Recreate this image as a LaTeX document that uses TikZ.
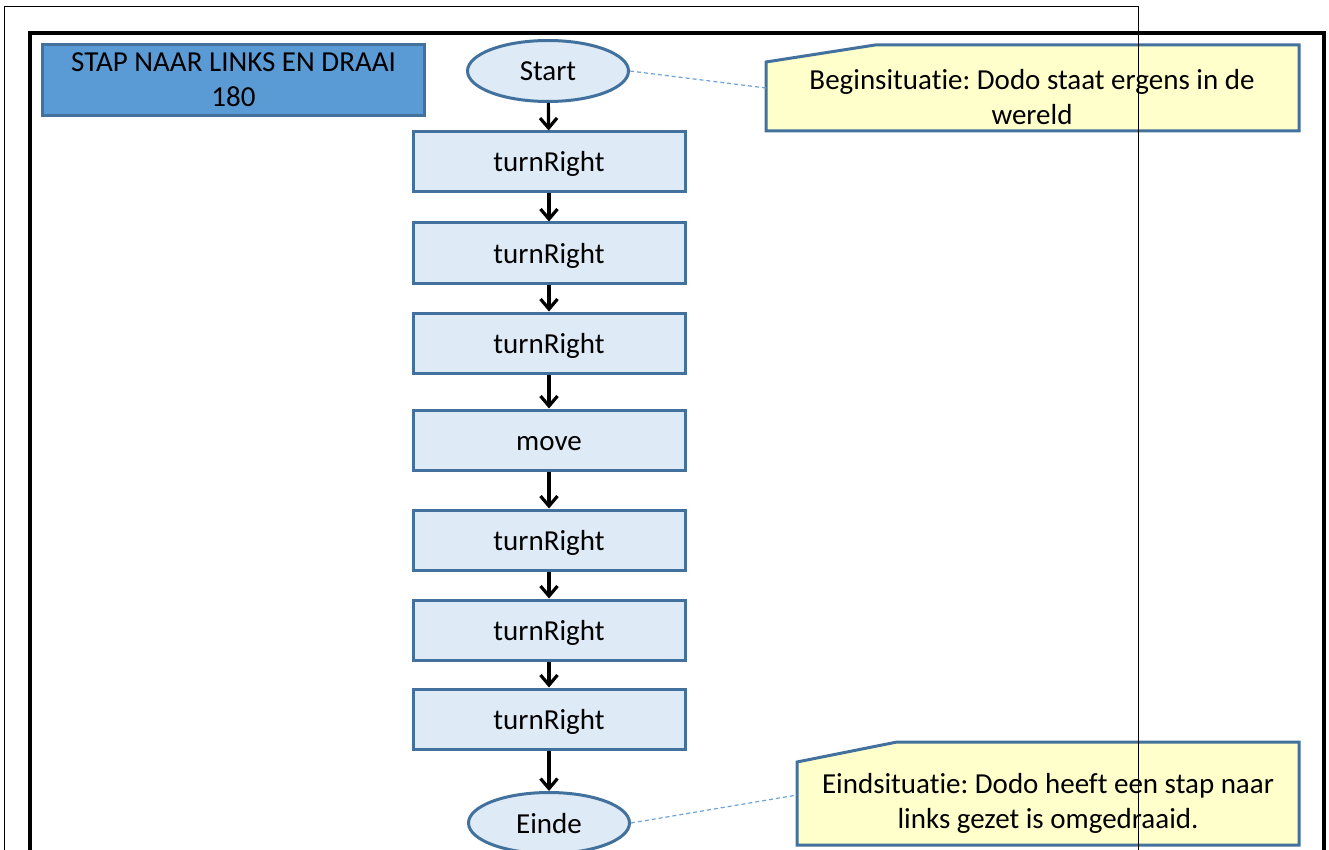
\documentclass[tikz,border=0pt]{standalone}
\usepackage{fontspec}
\setmainfont{Carlito}[Ligatures={NoCommon}]
\frenchspacing
\usetikzlibrary{arrows.meta,shapes.geometric}
\definecolor{bord}{HTML}{41719C}
\definecolor{titlefill}{HTML}{5B9BD5}
\definecolor{procfill}{HTML}{DEEBF7}
\definecolor{notefill}{HTML}{FFFFCC}
\definecolor{dashc}{HTML}{6FA3D8}
\begin{document}
\begin{tikzpicture}[x=1pt,y=-1pt,
  font=\fontsize{29}{35}\selectfont,
  proc/.style={draw=bord,fill=procfill,line width=3pt,minimum width=272pt,minimum height=60pt,inner sep=0pt,text depth=0pt,text height=20pt},
  term/.style={ellipse,draw=bord,fill=procfill,line width=3pt,minimum width=161pt,minimum height=61pt,inner sep=0pt,text depth=0pt,text height=20pt},
  flow/.style={-{Straight Barb[length=10pt,width=17pt]},line width=3.2pt,black},
  note/.style={draw=bord,fill=notefill,line width=3pt,line join=miter},
  notelink/.style={dashc,line width=1.2pt,dash pattern=on 4pt off 3pt}]
\useasboundingbox (0,0) rectangle (1329,850);
% thick frame
\draw[line width=3.5pt] (30,850) -- (30,33) -- (1324,33) -- (1324,850);
% title
\node[draw=bord,fill=titlefill,line width=2.5pt,minimum width=382pt,minimum height=71pt,align=center,inner sep=0pt] (title) at (233.5,80) {STAP NAAR LINKS EN DRAAI\\180};
% flow
\node[term] (start) at (548,71) {Start};
\node[proc] (r1) at (549,162) {turnRight};
\node[proc] (r2) at (549,253) {turnRight};
\node[proc] (r3) at (549,343) {turnRight};
\node[proc] (mv) at (549,440) {move};
\node[proc] (r4) at (549,540) {turnRight};
\node[proc] (r5) at (549,630) {turnRight};
\node[proc] (r6) at (549,719) {turnRight};
\node[term] (einde) at (549,823) {Einde};
\draw[flow] (start) -- (r1);
\draw[flow] (r1) -- (r2);
\draw[flow] (r2) -- (r3);
\draw[flow] (r3) -- (mv);
\draw[flow] (mv) -- (r4);
\draw[flow] (r4) -- (r5);
\draw[flow] (r5) -- (r6);
\draw[flow] (r6) -- (einde);
% callout 1
\draw[note] (766,131) -- (766,62) -- (875,45) -- (1299,45) -- (1299,131) -- cycle;
\node[align=center,inner sep=0pt] (n1) at (1032,97) {Beginsituatie: Dodo staat ergens in de\\wereld};
\coordinate (c1) at (766,88);
\draw[notelink] (start.east) -- (c1);
% callout 2
\draw[note] (797,845) -- (797,762) -- (897,742) -- (1299,742) -- (1299,845) -- cycle;
\node[align=center,inner sep=0pt] (n2) at (1048,803) {Eindsituatie: Dodo heeft een stap naar\\links gezet is omgedraaid.};
\coordinate (c2) at (797,795);
\draw[notelink] (einde.east) -- (c2);
% thin frame
\draw[line width=0.8pt] (4.5,850) -- (4.5,6.5) -- (1138,6.5) -- (1138,850);
\end{tikzpicture}
\end{document}
